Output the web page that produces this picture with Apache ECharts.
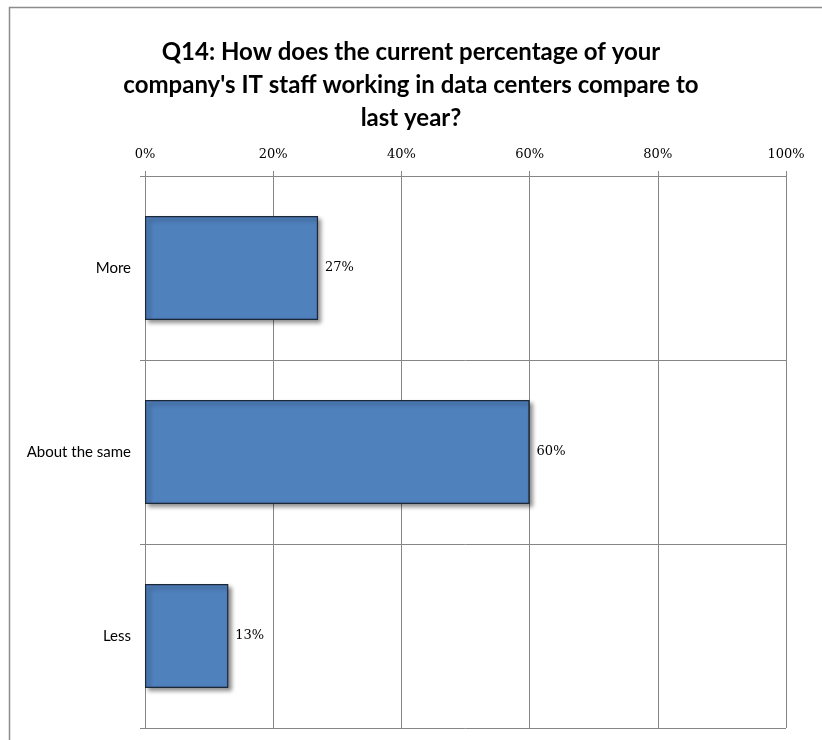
<!DOCTYPE html>
<html>
<head>
<meta charset="utf-8">
<script src="https://cdn.jsdelivr.net/npm/echarts@6/dist/echarts.min.js"></script>
<style>html,body{margin:0;padding:0;background:#fff}#c{width:822px;height:740px}</style>
</head>
<body>
<div id="c"></div>
<script>
const titleText = "Q14: How does the current percentage of your\ncompany's IT staff working in data centers compare to\nlast year?";
const categories = ["More", "About the same", "Less"];
const values = [27, 60, 13];
const tickMin = 0, tickMax = 100, tickStep = 20;

const chart = echarts.init(document.getElementById('c'), null, {renderer: 'canvas'});
chart.setOption({
  backgroundColor: '#fff',
  animation: false,
  graphic: [{
    type: 'rect', shape: {x: 9.5, y: 7.5, width: 840, height: 800},
    style: {fill: 'none', stroke: '#8c8c8c', lineWidth: 1.5}, z: -1
  }],
  title: {
    text: titleText, left: 'center', top: 31,
    textStyle: {fontFamily: 'Lato', fontWeight: 'bold', fontSize: 24, lineHeight: 33, color: '#000'}
  },
  grid: {left: 145, right: 36, top: 176, bottom: 12, containLabel: false},
  xAxis: {
    type: 'value', position: 'top', min: tickMin, max: tickMax, interval: tickStep,
    axisLine: {show: true, lineStyle: {color: '#868686'}},
    axisTick: {show: true, length: 5, lineStyle: {color: '#868686'}},
    axisLabel: {formatter: '{value}%', margin: 15, fontFamily: 'DejaVu Serif', fontSize: 13, color: '#000'},
    splitLine: {show: true, lineStyle: {color: '#868686'}}
  },
  yAxis: {
    type: 'category', inverse: true, data: categories,
    axisLine: {show: true, lineStyle: {color: '#868686'}},
    axisTick: {show: true, length: 5, lineStyle: {color: '#868686'}},
    axisLabel: {margin: 14, fontFamily: 'Lato', fontSize: 15, color: '#000'},
    splitLine: {show: true, lineStyle: {color: '#868686'}}
  },
  series: [{
    type: 'bar', data: values, barWidth: 104,
    itemStyle: {color: '#4F81BD', borderColor: '#1c2738', borderWidth: 1.2,
      shadowColor: 'rgba(0,0,0,0.45)', shadowBlur: 4, shadowOffsetX: 3, shadowOffsetY: 3},
    label: {show: true, position: 'right', distance: 7, formatter: '{c}%',
      fontFamily: 'DejaVu Serif', fontSize: 13, color: '#000'}
  }]
});
</script>
</body>
</html>
